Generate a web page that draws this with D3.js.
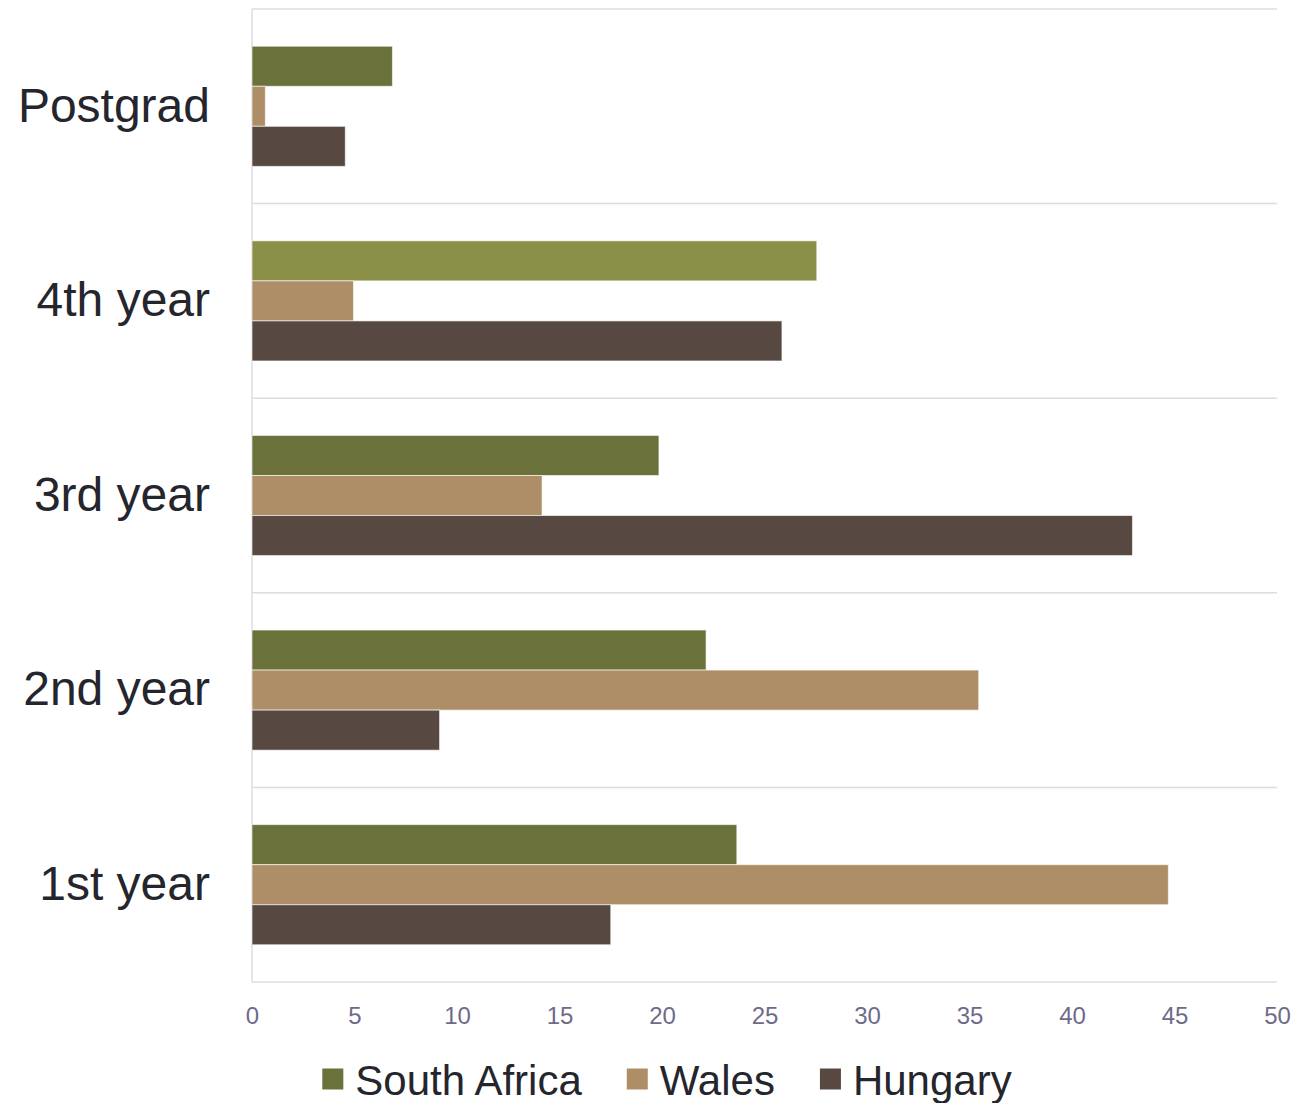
<!DOCTYPE html>
<html><head><meta charset="utf-8">
<script src="https://cdn.jsdelivr.net/npm/d3@7"></script>
<style>body{margin:0;background:#fff;}svg{display:block;font-family:"Liberation Sans",Arial,sans-serif;}</style>
</head><body>
<svg id="c" width="1307" height="1103"></svg>
<script>
const categories = ["Postgrad", "4th year", "3rd year", "2nd year", "1st year"];
const seriesNames = ["South Africa", "Wales", "Hungary"];
const southAfrica = [6.85, 27.55, 19.85, 22.15, 23.65];
const wales = [0.65, 4.95, 14.15, 35.45, 44.7];
const hungary = [4.55, 25.85, 42.95, 9.15, 17.5];
const xTicks = [0, 5, 10, 15, 20, 25, 30, 35, 40, 45, 50];
const colors = ["#6a713b", "#ad8e66", "#574941"];
const highlight = {series: 0, category: 1, color: "#8b9048"};

(function () {
const seriesValues = [southAfrica, wales, hungary];
const svg = d3.select("#c");
const pLeft = 252, pRight = 1277, pTop = 9, pBottom = 982;

const x = d3.scaleLinear().domain([0, 50]).range([pLeft, pRight]);
const y = d3.scaleBand().domain(categories).range([pTop, pBottom]).paddingInner(0).paddingOuter(0);
const inner = d3.scaleBand().domain(seriesNames).range([0, y.bandwidth()]).paddingOuter(0.93).paddingInner(0);

// gridlines
const gridG = svg.append("g");
const edges = categories.map(c => y(c)).concat([pBottom]);
gridG.selectAll("line.h").data(edges).join("line")
  .attr("x1", pLeft).attr("x2", pRight).attr("y1", d => d).attr("y2", d => d)
  .attr("stroke", "#dcdce3").attr("stroke-width", 1.5);
gridG.append("line").attr("x1", pLeft).attr("x2", pLeft).attr("y1", pTop).attr("y2", pBottom)
  .attr("stroke", "#dcdce3").attr("stroke-width", 1.5);

// bars
const barsG = svg.append("g");
categories.forEach((cat, ci) => {
  seriesNames.forEach((s, si) => {
    const v = seriesValues[si][ci];
    let col = colors[si];
    if (highlight.series === si && highlight.category === ci) col = highlight.color;
    barsG.append("rect")
      .attr("x", x(0)).attr("y", y(cat) + inner(s))
      .attr("width", x(v) - x(0)).attr("height", inner.bandwidth())
      .attr("fill", col).attr("stroke", "#ffffff").attr("stroke-opacity", 0.6).attr("stroke-width", 1);
  });
});

// category labels
const yAxis = d3.axisLeft(y).tickSize(0).tickPadding(42);
const yg = svg.append("g").attr("transform", `translate(${pLeft},0)`).call(yAxis);
yg.select(".domain").remove();
yg.selectAll("text").attr("font-size", 48).attr("fill", "#25252d")
  .attr("font-family", '"Liberation Sans",Arial,sans-serif');

// x axis
const xAxis = d3.axisBottom(x).tickValues(xTicks).tickSize(0).tickPadding(25);
const xg = svg.append("g").attr("transform", `translate(0,${pBottom})`).call(xAxis);
xg.select(".domain").remove();
xg.selectAll("text").attr("font-size", 24).attr("fill", "#6e6b8a")
  .attr("font-family", '"Liberation Sans",Arial,sans-serif');

// legend
const lg = svg.append("g");
const sq = 21, gapText = 12, gapItem = 45;
let cx = 0;
seriesNames.forEach((s, i) => {
  const g = lg.append("g").attr("transform", `translate(${cx},0)`);
  g.append("rect").attr("x", 0).attr("y", -sq / 2 - 1).attr("width", sq).attr("height", sq).attr("fill", colors[i]);
  const t = g.append("text").attr("x", sq + gapText).attr("y", 0).attr("dy", "0.35em")
    .attr("font-size", 42).attr("fill", "#25252d").text(s);
  const w = t.node().getComputedTextLength();
  cx += sq + gapText + w + gapItem;
});
const totalW = cx - gapItem;
lg.attr("transform", `translate(${667 - totalW / 2},1080)`);
})();
</script>
</body></html>
